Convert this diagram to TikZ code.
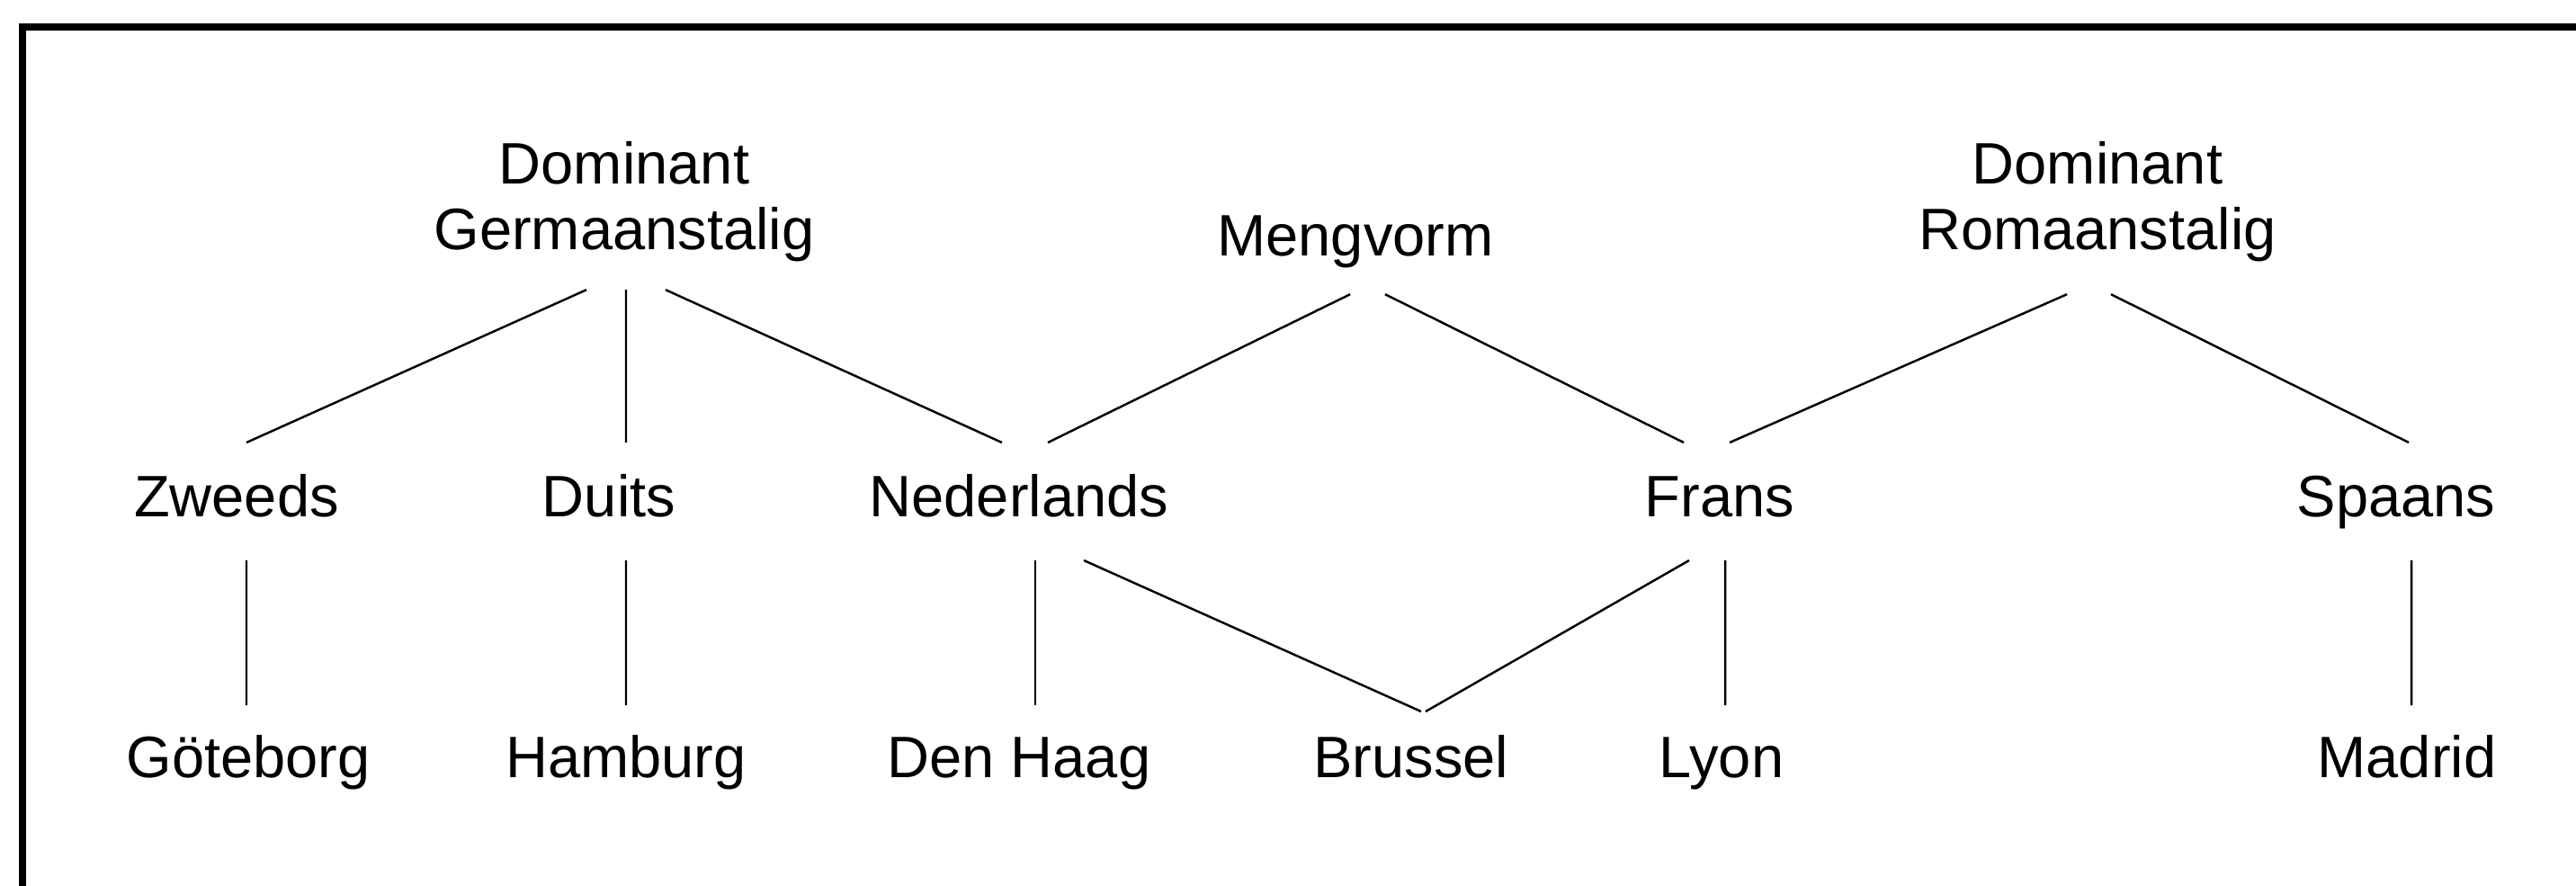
\documentclass[tikz,border=0pt]{standalone}
\usepackage{fontspec}
\setmainfont{Liberation Sans}
\usepackage{tikz}

\begin{document}
\begin{tikzpicture}[
  lang/.style={inner sep=0pt,anchor=base,align=center,
               font=\fontsize{18.5}{20.8}\selectfont},
  link/.style={line width=0.7pt},
  frame/.style={line width=2pt}]
  \useasboundingbox (0,0) rectangle (28.64,-9.85);
  \draw[frame] (0.21,-0.30) -- (28.64,-0.30);
  \draw[frame] (0.25,-0.30) -- (0.25,-9.85);
  \node[lang] (dg) at (6.94,-2.78) {Dominant\\Germaanstalig};
  \node[lang] (mv) at (15.07,-2.85) {Mengvorm};
  \node[lang] (dr) at (23.32,-2.78) {Dominant\\Romaanstalig};
  \node[lang] (zw) at (2.63,-5.75) {Zweeds};
  \node[lang] (du) at (6.77,-5.75) {Duits};
  \node[lang] (nl) at (11.33,-5.75) {Nederlands};
  \node[lang] (fr) at (19.12,-5.75) {Frans};
  \node[lang] (sp) at (26.64,-5.75) {Spaans};
  \node[lang] (gb) at (2.76,-8.64) {Göteborg};
  \node[lang] (hb) at (6.96,-8.64) {Hamburg};
  \node[lang] (dh) at (11.33,-8.64) {Den Haag};
  \node[lang] (br) at (15.69,-8.64) {Brussel};
  \node[lang] (ly) at (19.14,-8.64) {Lyon};
  \node[lang] (ma) at (26.76,-8.64) {Madrid};
  \draw[link] ([xshift=-4.2mm,yshift=-3mm]dg.south) -- ([xshift=1.1mm,yshift=8.3mm]zw.base);
  \draw[link] ([xshift=0.2mm,yshift=-3mm]dg.south) -- ([xshift=1.9mm,yshift=8.3mm]du.base);
  \draw[link] ([xshift=4.6mm,yshift=-3mm]dg.south) -- ([xshift=-1.9mm,yshift=8.3mm]nl.base);
  \draw[link] ([xshift=-0.6mm,yshift=-2.8mm]mv.south) -- ([xshift=3.2mm,yshift=8.3mm]nl.base);
  \draw[link] ([xshift=3.3mm,yshift=-2.8mm]mv.south) -- ([xshift=-4mm,yshift=8.3mm]fr.base);
  \draw[link] ([xshift=-3.4mm,yshift=-3.5mm]dr.south) -- ([xshift=1.1mm,yshift=8.3mm]fr.base);
  \draw[link] ([xshift=1.5mm,yshift=-3.5mm]dr.south) -- ([xshift=1.4mm,yshift=8.3mm]sp.base);
  \draw[link] ([xshift=1.1mm,yshift=-4.8mm]zw.base) -- ([xshift=-0.2mm,yshift=8mm]gb.base);
  \draw[link] ([xshift=1.9mm,yshift=-4.8mm]du.base) -- ([yshift=8mm]hb.base);
  \draw[link] ([xshift=1.8mm,yshift=-4.8mm]nl.base) -- ([xshift=1.8mm,yshift=8mm]dh.base);
  \draw[link] ([xshift=7.2mm,yshift=-4.8mm]nl.base) -- ([xshift=1.1mm,yshift=7.3mm]br.base);
  \draw[link] ([xshift=-3.4mm,yshift=-4.8mm]fr.base) -- ([xshift=1.6mm,yshift=7.3mm]br.base);
  \draw[link] ([xshift=0.6mm,yshift=-4.8mm]fr.base) -- ([xshift=0.4mm,yshift=8mm]ly.base);
  \draw[link] ([xshift=1.7mm,yshift=-4.8mm]sp.base) -- ([xshift=0.5mm,yshift=8mm]ma.base);
\end{tikzpicture}
\end{document}
